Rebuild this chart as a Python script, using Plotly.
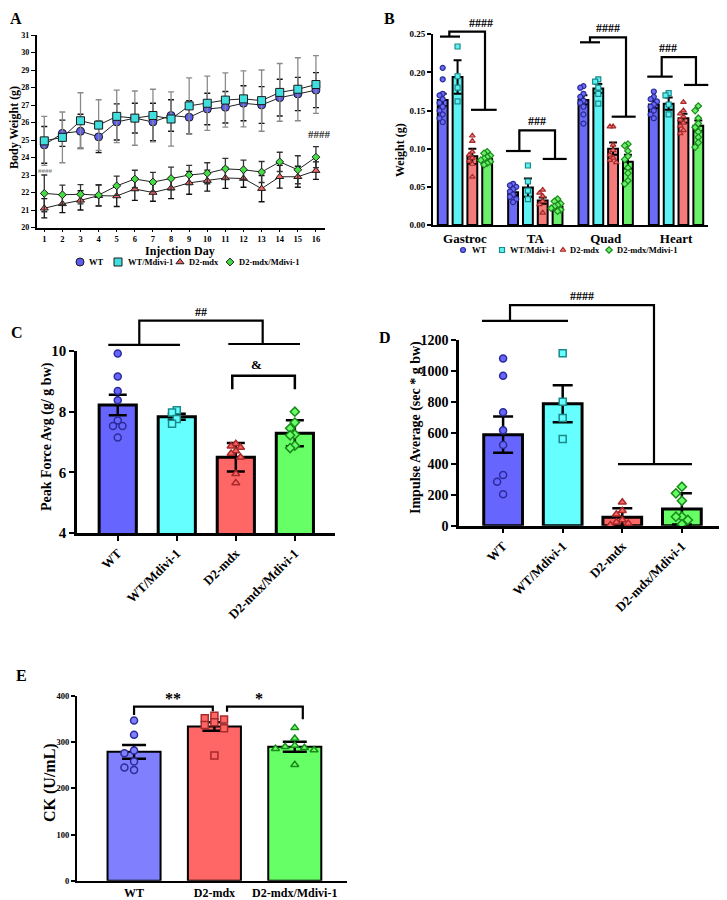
import plotly.graph_objects as go

W, H = 727, 900
OFF = 8  # the page body adds an 8px margin; pixel targets below are page pixels
FONT = "Liberation Serif, Times New Roman, serif"

groups = ["WT", "WT/Mdivi-1", "D2-mdx", "D2-mdx/Mdivi-1"]
symbols = ["circle", "square", "triangle-up", "diamond"]
bar_fill = ["#6666ff", "#66ffff", "#ff6666", "#66ff66"]
pt_edge = ["#2b2b99", "#1a8a8a", "#a82a2a", "#1a8a1a"]

# ---- A: body weight (g) by injection day, mean +/- SD
days = list(range(1, 17))
bw_wt = [24.72, 25.38, 25.5, 25.18, 26.03, 26.25, 26.03, 26.4, 26.3, 26.77, 26.87, 27.1, 27.0, 27.42, 27.63, 27.85]
bw_wt_m = [24.95, 25.15, 26.1, 25.85, 26.35, 26.25, 26.4, 26.2, 26.95, 27.1, 27.28, 27.35, 27.25, 27.72, 27.9, 28.17]
bw_d2 = [21.1, 21.35, 21.55, 21.82, 21.8, 22.2, 22.0, 22.25, 22.55, 22.68, 22.83, 22.8, 22.22, 22.9, 22.9, 23.25]
bw_d2_m = [21.95, 21.87, 21.9, 21.85, 22.38, 22.77, 22.6, 22.8, 23.0, 23.1, 23.35, 23.3, 23.17, 23.75, 23.3, 24.02]
sd_wt = [1.05, 0.75, 0.97, 0.9, 1.03, 0.85, 1.07, 0.9, 0.95, 0.9, 0.9, 1.0, 1.05, 1.05, 0.95, 1.0]
sd_wt_m = [1.4, 1.45, 1.6, 1.45, 1.5, 1.55, 1.5, 1.55, 1.6, 1.55, 1.55, 1.6, 1.75, 1.65, 1.8, 1.65]
sd_d2 = [0.55, 0.5, 0.55, 0.6, 0.6, 0.65, 0.5, 0.6, 0.65, 0.6, 0.6, 0.5, 0.75, 0.65, 0.6, 0.5]
sd_d2_m = [1.05, 0.55, 0.55, 0.6, 0.55, 0.5, 0.55, 0.65, 0.55, 0.6, 0.6, 0.55, 0.6, 0.55, 0.8, 0.6]

# ---- B: muscle weights (g)
muscles = ["Gastroc", "TA", "Quad", "Heart"]
mw_mean = {
    "WT": [0.164, 0.043, 0.164, 0.158],
    "WT/Mdivi-1": [0.194, 0.049, 0.179, 0.159],
    "D2-mdx": [0.090, 0.032, 0.100, 0.140],
    "D2-mdx/Mdivi-1": [0.087, 0.024, 0.083, 0.130],
}
mw_sem = {
    "WT": [0.008, 0.004, 0.006, 0.005],
    "WT/Mdivi-1": [0.022, 0.012, 0.006, 0.008],
    "D2-mdx": [0.010, 0.004, 0.008, 0.006],
    "D2-mdx/Mdivi-1": [0.006, 0.003, 0.009, 0.007],
}
mw_pts = {
    "WT": [[0.206, 0.191, 0.172, 0.170, 0.165, 0.160, 0.155, 0.150, 0.145, 0.140, 0.135],
           [0.054, 0.052, 0.050, 0.047, 0.044, 0.040, 0.037, 0.034, 0.030],
           [0.182, 0.180, 0.172, 0.168, 0.163, 0.160, 0.155, 0.145, 0.133],
           [0.175, 0.168, 0.165, 0.162, 0.158, 0.155, 0.150, 0.145, 0.140]],
    "WT/Mdivi-1": [[0.234, 0.195, 0.180, 0.162],
                   [0.078, 0.057, 0.045, 0.034],
                   [0.191, 0.188, 0.180, 0.172, 0.159],
                   [0.173, 0.170, 0.158, 0.145]],
    "D2-mdx": [[0.117, 0.110, 0.096, 0.092, 0.088, 0.084, 0.080, 0.063],
               [0.046, 0.042, 0.038, 0.031, 0.027, 0.016],
               [0.129, 0.129, 0.105, 0.098, 0.092, 0.088, 0.085, 0.082],
               [0.161, 0.150, 0.146, 0.142, 0.138, 0.134, 0.130, 0.124, 0.120]],
    "D2-mdx/Mdivi-1": [[0.096, 0.094, 0.091, 0.089, 0.087, 0.085, 0.083, 0.081, 0.079],
                       [0.034, 0.031, 0.028, 0.026, 0.024, 0.022, 0.020, 0.018],
                       [0.106, 0.104, 0.097, 0.090, 0.086, 0.075, 0.068, 0.058, 0.054],
                       [0.156, 0.150, 0.140, 0.133, 0.128, 0.122, 0.115, 0.108, 0.102]],
}

# ---- C: peak force avg (g / g bw)
pf_mean = [8.22, 7.83, 6.50, 7.29]
pf_err = [0.34, 0.10, 0.47, 0.43]
pf_pts = [[9.92, 9.16, 8.68, 8.38, 7.71, 7.53, 7.53, 7.15],
          [8.05, 7.97, 7.76, 7.60],
          [6.94, 6.86, 6.82, 6.70, 6.62, 6.50, 5.95, 5.65],
          [8.00, 7.64, 7.45, 7.25, 7.22, 6.88, 6.80]]

# ---- D: impulse average (sec * g bw)
imp_mean = [588, 788, 54, 108]
imp_err = [117, 120, 58, 101]
imp_pts = [[1081, 969, 733, 616, 521, 328, 284, 203],
           [1114, 801, 696, 560],
           [151, 97, 74, 37, 22, 15, 5],
           [252, 209, 161, 58, 58, 37, 10]]

# ---- E: CK (U/mL)
ck_groups = ["WT", "D2-mdx", "D2-mdx/Mdivi-1"]
ck_fill = ["#8080ff", "#ff6666", "#66ff66"]
ck_edge = ["#2b2b99", "#a82a2a", "#1a8a1a"]
ck_sym = ["circle", "square", "triangle-up"]
ck_mean = [279, 334, 290]
ck_err = [15, 9, 11]
ck_pts = [[347, 316, 282, 276, 258, 245, 240],
          [357, 352, 349, 343, 337, 330, 271],
          [331, 308, 293, 290, 288, 286, 283, 251]]


def dodge(vals, tol, step):
    # spread points that would overlap vertically
    placed, out = [], []
    for v in vals:
        used = [k for pv, k in placed if abs(pv - v) < tol]
        for k in (0, -1, 1, -2, 2, -3, 3, -4, 4):
            if k not in used:
                break
        placed.append((v, k))
        out.append(k * step)
    return out


def bold(size, color="black"):
    return dict(family=FONT, size=size, color=color, weight="bold")


fig = go.Figure()
shapes, annos = [], []

# ---------------- panel A
a_series = [(bw_wt, sd_wt, "#111111"), (bw_wt_m, sd_wt_m, "#8a8a8a"),
            (bw_d2, sd_d2, "#111111"), (bw_d2_m, sd_d2_m, "#333333")]
a_fill = ["#5c5cf0", "#40dede", "#f06464", "#46dc46"]
a_size = [8, 8, 7, 6]
for i, (m, sd, ec) in enumerate(a_series):
    fig.add_trace(go.Scatter(
        x=days, y=m, mode="lines+markers", xaxis="x", yaxis="y", showlegend=False,
        line=dict(color="#222222", width=1),
        marker=dict(symbol=symbols[i], size=a_size[i], color=a_fill[i],
                    line=dict(color="#1a1a1a", width=1)),
        error_y=dict(type="data", array=sd, color=ec, thickness=1.3, width=3),
        cliponaxis=False))

# ---------------- panel B
b_off = [-0.316, -0.105, 0.105, 0.316]
b_fill = ["#6b6bf5", "#5ef2f2", "#f57a7a", "#6bf06b"]
for k, g in enumerate(groups):
    xs = [i + b_off[k] for i in range(len(muscles))]
    fig.add_trace(go.Bar(
        x=xs, y=mw_mean[g], width=0.14, xaxis="x2", yaxis="y2", showlegend=False,
        marker=dict(color=b_fill[k], line=dict(color="black", width=2)),
        error_y=dict(type="data", array=mw_sem[g], color="black", thickness=2, width=4)))
for k, g in enumerate(groups):
    px_, py_ = [], []
    for i, vals in enumerate(mw_pts[g]):
        offs = dodge(vals, 0.0065, 0.045)
        px_ += [i + b_off[k] + o for o in offs]
        py_ += vals
    fig.add_trace(go.Scatter(
        x=px_, y=py_, mode="markers", xaxis="x2", yaxis="y2", showlegend=False,
        marker=dict(symbol=symbols[k], size=5, color=b_fill[k],
                    line=dict(color=pt_edge[k], width=1.2)), cliponaxis=False))


def bar_panel(xa, ya, means, errs, pts, fills, edges, syms, width, lw, ecap, tol, step, msize):
    xs = list(range(len(means)))
    fig.add_trace(go.Bar(
        x=xs, y=means, width=width, xaxis=xa, yaxis=ya, showlegend=False,
        marker=dict(color=fills, line=dict(color="black", width=lw)),
        error_y=dict(type="data", array=errs, color="black", thickness=2.5, width=ecap)))
    for k, vals in enumerate(pts):
        offs = dodge(vals, tol, step)
        fig.add_trace(go.Scatter(
            x=[k + o for o in offs], y=vals, mode="markers", xaxis=xa, yaxis=ya,
            showlegend=False, cliponaxis=False,
            marker=dict(symbol=syms[k], size=msize, color=fills[k],
                        line=dict(color=edges[k], width=1.5))))


bar_panel("x3", "y3", pf_mean, pf_err, pf_pts, bar_fill, pt_edge, symbols, 0.63, 3, 9, 0.22, 0.08, 7)
bar_panel("x4", "y4", imp_mean, imp_err, imp_pts, bar_fill, pt_edge, symbols, 0.65, 3, 10, 45, 0.1, 7)
bar_panel("x5", "y5", ck_mean, ck_err, ck_pts, ck_fill, ck_edge, ck_sym, 0.66, 2, 12, 14, 0.12, 7)

# ---------------- axes
AX = dict(showline=True, linecolor="black", showgrid=False, zeroline=False,
          ticks="outside", tickcolor="black", automargin=False)
ranges = {
    "x": [0.57, 16.5], "y": [20, 31],
    "x2": [-0.454, 3.454], "y2": [0, 0.25],
    "x3": [-0.69, 3.68], "y3": [4, 10],
    "x4": [-0.74, 3.69], "y4": [0, 1200],
    "x5": [-0.71, 2.65], "y5": [0, 400],
}


def dom(x0, x1):
    return [(x0 - OFF) / W, (x1 - OFF) / W]


def vdom(top, bottom):
    return [1 - (bottom - OFF) / H, 1 - (top - OFF) / H]


layout_axes = dict(
    xaxis=dict(AX, domain=dom(36.5, 325), range=ranges["x"], anchor="y", tickvals=days,
               ticklen=3, tickwidth=1.2, linewidth=1.5, tickfont=bold(8.5)),
    yaxis=dict(AX, domain=vdom(35, 227.5), range=ranges["y"], anchor="x", dtick=1,
               ticklen=4, tickwidth=1.2, linewidth=1.5, tickfont=bold(8)),
    xaxis2=dict(AX, domain=dom(433, 708), range=ranges["x2"], anchor="y2",
                tickvals=[0, 1, 2, 3], ticktext=muscles, ticks="", linewidth=2,
                tickfont=bold(13)),
    yaxis2=dict(AX, domain=vdom(34.3, 225), range=ranges["y2"], anchor="x2", dtick=0.05,
                tickformat=".2f", ticklen=4, tickwidth=1.5, linewidth=2, tickfont=bold(9)),
    xaxis3=dict(AX, domain=dom(77, 335), range=ranges["x3"], anchor="y3",
                tickvals=[0, 1, 2, 3], ticktext=groups, tickangle=-45, ticklen=5,
                tickwidth=2, linewidth=2.5, tickfont=bold(13)),
    yaxis3=dict(AX, domain=vdom(351, 533), range=ranges["y3"], anchor="x3", dtick=2,
                ticklen=5, tickwidth=2, linewidth=2.5, tickfont=bold(15)),
    xaxis4=dict(AX, domain=dom(459, 723), range=ranges["x4"], anchor="y4",
                tickvals=[0, 1, 2, 3], ticktext=groups, tickangle=-45, ticklen=5,
                tickwidth=2, linewidth=2.5, tickfont=bold(13)),
    yaxis4=dict(AX, domain=vdom(340, 525.7), range=ranges["y4"], anchor="x4", dtick=200,
                ticklen=5, tickwidth=2, linewidth=2.5, tickfont=bold(14)),
    xaxis5=dict(AX, domain=dom(77, 347), range=ranges["x5"], anchor="y5",
                tickvals=[0, 1, 2], ticktext=ck_groups, ticks="", linewidth=2,
                tickfont=bold(12)),
    yaxis5=dict(AX, domain=vdom(696, 880.7), range=ranges["y5"], anchor="x5", dtick=100,
                ticklen=4, tickwidth=1.5, linewidth=2, tickfont=bold(8.5)),
    xaxis6=dict(domain=[0, 1], range=[OFF, W + OFF], anchor="y6", visible=False,
                fixedrange=True, automargin=False),
    yaxis6=dict(domain=[0, 1], range=[H + OFF, OFF], anchor="x6", visible=False,
                fixedrange=True, automargin=False),
)


def to_dom(ax, v):
    r = ranges[ax]
    return (v - r[0]) / (r[1] - r[0])


def path_shape(xa, ya, pts, lw):
    d = "M " + " L ".join(f"{to_dom(xa, x):.5f},{to_dom(ya, y):.5f}" for x, y in pts)
    shapes.append(dict(type="path", path=d, xref=f"{xa} domain", yref=f"{ya} domain",
                       line=dict(color="black", width=lw)))


def group_bracket(xa, ya, left, xlv, yl, ytop, right, xrv, yr, lw, label, size):
    path_shape(xa, ya, [(left[0], yl), (left[1], yl)], lw)
    path_shape(xa, ya, [(xlv, yl), (xlv, ytop), (xrv, ytop), (xrv, yr)], lw)
    path_shape(xa, ya, [(right[0], yr), (right[1], yr)], lw)
    annos.append(dict(text=label, x=to_dom(xa, (xlv + xrv) / 2), y=to_dom(ya, ytop),
                      xref=f"{xa} domain", yref=f"{ya} domain", yanchor="bottom",
                      showarrow=False, font=bold(size)))


def pair_bracket(xa, ya, x0, x1, y0, ytop, y1, lw, label, size, lift):
    path_shape(xa, ya, [(x0, y0), (x0, ytop), (x1, ytop), (x1, y1)], lw)
    annos.append(dict(text=label, x=to_dom(xa, (x0 + x1) / 2), y=to_dom(ya, ytop + lift),
                      xref=f"{xa} domain", yref=f"{ya} domain", yanchor="bottom",
                      showarrow=False, font=bold(size)))


# B brackets
group_bracket("x2", "y2", (-0.355, -0.07), -0.222, 0.247, 0.2535, (0.086, 0.451), 0.285, 0.151, 2.2, "####", 12)
group_bracket("x2", "y2", (0.583, 0.934), 0.773, 0.097, 0.124, (1.105, 1.446), 1.28, 0.0866, 2.2, "###", 12)
group_bracket("x2", "y2", (1.635, 1.919), 1.777, 0.2395, 0.246, (2.085, 2.426), 2.289, 0.142, 2.2, "####", 12)
group_bracket("x2", "y2", (2.591, 2.952), 2.796, 0.1945, 0.22, (3.113, 3.458), 3.283, 0.1836, 2.2, "###", 12)
# C brackets
group_bracket("x3", "y3", (-0.16, 1.055), 0.365, 10.2, 11.0, (1.873, 3.087), 2.455, 10.23, 2.2, "##", 12)
pair_bracket("x3", "y3", 1.94, 3.0, 8.74, 9.18, 8.74, 2.5, "&amp;", 13, 0.05)
# D bracket
group_bracket("x4", "y4", (-0.354, 1.089), 0.116, 1323, 1426, (1.928, 3.169), 2.532, 398, 2.2, "####", 12)
# E brackets
pair_bracket("x5", "y5", 0.0, 0.98, 359, 377, 367, 2.2, "**", 16, -6)
pair_bracket("x5", "y5", 1.157, 2.1, 366, 377, 349.5, 2.2, "*", 16, -6)


def ptxt(text, x, y, size, angle=0, xanchor="center", color="black", yanchor="middle"):
    annos.append(dict(text=text, x=(x - OFF) / W, y=1 - (y - OFF) / H,
                      xref="paper", yref="paper",
                      xanchor=xanchor, yanchor=yanchor, showarrow=False,
                      textangle=angle, font=bold(size, color)))


# panel letters (kept inside the page area) and axis titles
ptxt("A", 8, 8, 16, xanchor="left", yanchor="top")
ptxt("B", 382, 8, 16, xanchor="left", yanchor="top")
ptxt("C", 17, 332, 16)
ptxt("D", 385, 337, 16)
ptxt("E", 21, 675, 16)
ptxt("Body Weight (g)", 14, 128, 12, angle=-90)
ptxt("Injection Day", 180, 251, 12)
ptxt("Weight (g)", 400, 150, 12, angle=-90)
ptxt("Peak Force Avg (g/ g bw)", 47, 437, 14, angle=-90)
ptxt("Impulse Average (sec * g bw)", 416, 428, 14, angle=-90)
ptxt("CK (U/mL)", 50, 783, 16, angle=-90)
ptxt("####", 45, 171, 7, color="#888888")
ptxt("####", 319, 134, 11, color="#333333")

# legends (A and B) drawn on a full-page overlay axis
leg_a = [(80, 87), (118, 126), (180, 187), (230, 237)]
leg_b = [(463, 470), (502, 508), (563, 568), (609, 615)]
for k, g in enumerate(groups):
    fig.add_trace(go.Scatter(
        x=[leg_a[k][0]], y=[262], mode="markers", xaxis="x6", yaxis="y6", showlegend=False,
        marker=dict(symbol=symbols[k], size=a_size[k], color=a_fill[k],
                    line=dict(color="#1a1a1a", width=1))))
    ptxt(g, leg_a[k][1], 262, 8.5, xanchor="left")
    fig.add_trace(go.Scatter(
        x=[leg_b[k][0]], y=[250], mode="markers", xaxis="x6", yaxis="y6", showlegend=False,
        marker=dict(symbol=symbols[k], size=5, color=b_fill[k],
                    line=dict(color=pt_edge[k], width=1.2))))
    ptxt(g, leg_b[k][1], 250, 8.5, xanchor="left")

fig.update_layout(
    width=W, height=H, margin=dict(l=0, r=0, t=0, b=0, autoexpand=False),
    paper_bgcolor="white", plot_bgcolor="rgba(0,0,0,0)",
    font=dict(family=FONT, color="black"),
    barmode="overlay", showlegend=False,
    shapes=shapes, annotations=annos,
    **layout_axes,
)

fig.write_html("out.html")
